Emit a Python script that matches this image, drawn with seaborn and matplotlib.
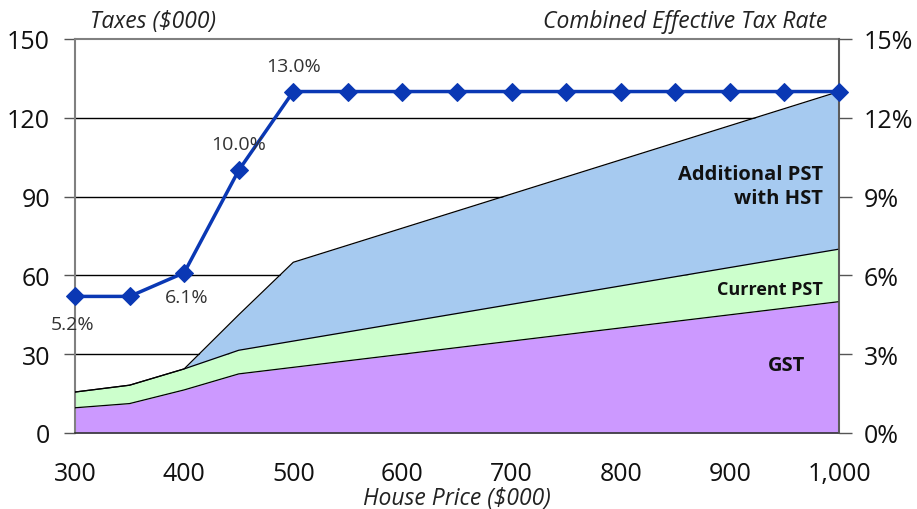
import matplotlib
matplotlib.use("Agg")
import matplotlib.pyplot as plt
import seaborn as sns
import numpy as np
import pandas as pd

# House price ($000) and tax components ($000)
house_price = [300, 350, 400, 450, 500, 550, 600, 650, 700, 750, 800, 850, 900, 950, 1000]
gst = [9.6, 11.2, 16.4, 22.5, 25.0, 27.5, 30.0, 32.5, 35.0, 37.5, 40.0, 42.5, 45.0, 47.5, 50.0]
current_pst = [6.0, 7.0, 8.0, 9.0, 10.0, 11.0, 12.0, 13.0, 14.0, 15.0, 16.0, 17.0, 18.0, 19.0, 20.0]
additional_pst = [0.0, 0.0, 0.0, 13.5, 30.0, 33.0, 36.0, 39.0, 42.0, 45.0, 48.0, 51.0, 54.0, 57.0, 60.0]
# Combined effective tax rate (%)
effective_rate = [5.2, 5.2, 6.1, 10.0, 13.0, 13.0, 13.0, 13.0, 13.0, 13.0, 13.0, 13.0, 13.0, 13.0, 13.0]
rate_labels = {300: "5.2%", 400: "6.1%", 450: "10.0%", 500: "13.0%"}

sns.set_style("white")
plt.rcParams["font.family"] = ["Open Sans", "DejaVu Sans"]

df = pd.DataFrame({"price": house_price, "gst": gst, "pst": current_pst,
                   "add": additional_pst, "rate": effective_rate})

fig = plt.figure(figsize=(9.17, 5.10), dpi=100)
ax = fig.add_axes([75 / 917, 1 - 434 / 510, 764 / 917, 394 / 510])

x = df["price"].to_numpy()
lvl1 = df["gst"].to_numpy()
lvl2 = lvl1 + df["pst"].to_numpy()
lvl3 = lvl2 + df["add"].to_numpy()

ax.fill_between(x, 0, lvl1, color="#CC99FF", lw=0, zorder=2)
ax.fill_between(x, lvl1, lvl2, color="#CCFFCC", lw=0, zorder=2)
ax.fill_between(x, lvl2, lvl3, color="#A6CAF0", lw=0, zorder=2)
for top in (lvl1, lvl2, lvl3):
    ax.plot(x, top, color="black", lw=0.9, zorder=3)

ax.set_xlim(300, 1000)
ax.set_ylim(0, 150)
ax.set_yticks(range(0, 151, 30))
ax.set_xticks(range(300, 1001, 100))
ax.set_xticklabels([f"{v:,}" for v in range(300, 1001, 100)])
ax.set_xticks(range(350, 1000, 100), minor=True)
for yv in range(30, 150, 30):
    ax.axhline(yv, color="black", lw=1, zorder=1)

ax.tick_params(axis="y", which="both", direction="out", length=8, width=1,
               color="#555555", labelsize=18, pad=10, labelcolor="#111111")
ax.tick_params(axis="x", which="both", direction="out", length=6, width=1,
               color="#555555", labelsize=18, pad=14, labelcolor="#111111")
for side in ("left", "right", "top"):
    ax.spines[side].set_color("#808080")
    ax.spines[side].set_linewidth(1.5)
ax.spines["bottom"].set_color("#333333")
ax.spines["bottom"].set_linewidth(1.2)

ax.text(0.02, 1.015, "Taxes ($000)", transform=ax.transAxes, ha="left", va="bottom",
        fontsize=16.5, style="italic", color="#222222")
ax.text(0.985, 1.015, "Combined Effective Tax Rate", transform=ax.transAxes, ha="right",
        va="bottom", fontsize=16.5, style="italic", color="#222222")
ax.set_xlabel("House Price ($000)", fontsize=16.5, style="italic", color="#222222", labelpad=0)

ax.text(985, 94, "Additional PST\nwith HST", ha="right", va="center", fontsize=14.5,
        fontweight="bold", color="#111111", zorder=5, linespacing=1.25)
ax.text(985, 55, "Current PST", ha="right", va="center", fontsize=13,
        fontweight="bold", color="#111111", zorder=5)
ax.text(952, 26, "GST", ha="center", va="center", fontsize=14.5,
        fontweight="bold", color="#111111", zorder=5)

ax2 = ax.twinx()
ax2.set_position(ax.get_position())
sns.lineplot(data=df, x="price", y="rate", ax=ax2, color="#0A38B4", lw=2.5,
             marker="D", markersize=9, markeredgecolor="#0A38B4", clip_on=False, zorder=6)
ax2.set_ylim(0, 15)
ax2.set_yticks(range(0, 16, 3))
ax2.set_yticklabels([f"{v}%" for v in range(0, 16, 3)])
ax2.set_ylabel("")
ax2.set_xlabel("")
ax2.tick_params(axis="y", direction="out", length=9, width=1, color="#555555",
                labelsize=18, pad=9, labelcolor="#111111")
for sp in ax2.spines.values():
    sp.set_visible(False)
ax2.spines["right"].set_visible(True)
ax2.spines["right"].set_color("#555555")
ax2.spines["right"].set_linewidth(1.2)

offsets = {300: (-2, -1.05), 400: (2, -0.92), 450: (0, 1.0), 500: (0, 0.97)}
for px, label in rate_labels.items():
    val = df.loc[df["price"] == px, "rate"].iloc[0]
    dx, dy = offsets[px]
    ax2.text(px + dx, val + dy, label, ha="center", va="center", fontsize=14,
             color="#333333", zorder=7)

fig.savefig("out.png", dpi=100)
